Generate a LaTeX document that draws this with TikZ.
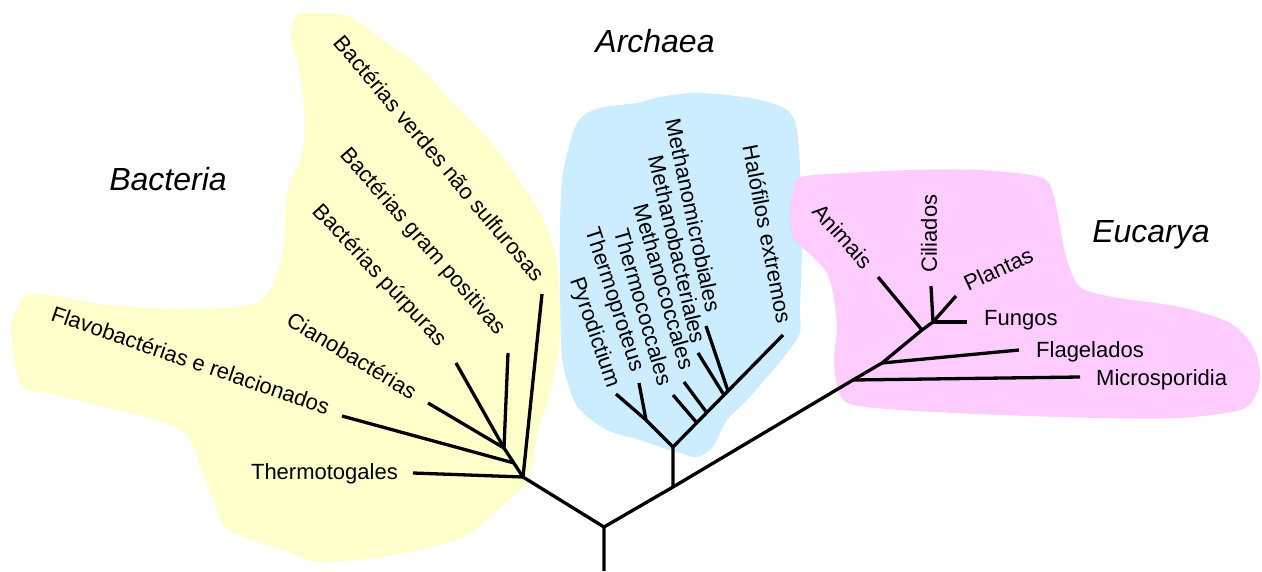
\documentclass[tikz,border=0pt]{standalone}
\usepackage{fontspec}
\setmainfont{Liberation Sans}

\begin{document}
\begin{tikzpicture}[x=1pt,y=-1pt]
    % pale colours of the three domains
    \definecolor{bactYellow}{RGB}{255,255,204}
    \definecolor{archBlue}{RGB}{204,236,255}
    \definecolor{eucPink}{RGB}{255,204,255}
    \tikzstyle{every node}=[font=\fontsize{22}{25}\selectfont, inner sep=1pt]
    \tikzstyle{domainname}=[font=\fontsize{32}{38}\selectfont\itshape, anchor=base]
    \tikzstyle{branch}=[line width=3.3pt, line join=round]

    \useasboundingbox (0,0) rectangle (1262,571);

    % background blobs
    \fill[bactYellow] plot[smooth cycle] coordinates {(300,14) (347,16) (380,38) (420,67) (447,97)
        (480,130) (507,163) (530,197) (547,227) (557,263) (560,310) (559,350) (548,400) (538,430)
        (533,463) (523,487) (500,507) (464,537) (393,555) (321,562) (286,551) (229,530) (214,501)
        (200,466) (186,434) (143,416) (50,394) (21,384) (11,334) (14,316) (32,294) (107,305)
        (179,309) (250,305) (271,287) (283,250) (287,193) (300,160) (305,120) (299,70) (291,35)};
    \fill[archBlue] plot[smooth cycle] coordinates {(637,103) (660,97) (693,93) (727,95) (760,100)
        (787,110) (797,130) (801,190) (802,250) (800,310) (800,333) (787,353) (767,377) (747,400)
        (727,420) (713,447) (697,457) (680,453) (660,447) (640,440) (607,430) (580,410) (570,390)
        (562,357) (560,290) (560,223) (563,173) (577,123) (600,108)};
    \fill[eucPink] plot[smooth cycle] coordinates {(800,177) (847,173) (913,170) (980,170) (1040,177)
        (1053,193) (1060,227) (1067,260) (1080,287) (1113,297) (1180,307) (1230,323) (1253,347)
        (1260,373) (1256,395) (1240,410) (1180,418) (1100,418) (1000,415) (900,410) (850,404)
        (838,390) (834,360) (837,327) (833,293) (827,273) (813,257) (793,237) (790,210) (793,190)};

    % joints of the tree
    \coordinate (root) at (604,571);
    \coordinate (fork) at (604,527);
    \coordinate (bNode) at (523,477);
    \coordinate (bSub) at (504,448);
    \coordinate (bFlavo) at (514,463);
    \coordinate (aStem) at (673,487);
    \coordinate (aNode) at (673,447);
    \coordinate (aSub) at (646,420);
    \coordinate (aThc) at (697,423);
    \coordinate (aMcc) at (707,413);
    \coordinate (aMbt) at (724,395);
    \coordinate (aMmc) at (728,391);
    \coordinate (eMic) at (853,380);
    \coordinate (eFla) at (882,363);
    \coordinate (eAni) at (922,330);
    \coordinate (eNode) at (933,322);

    % free ends of the leaves
    \coordinate (bThermo) at (413,473);
    \coordinate (bFlavoEnd) at (342,416);
    \coordinate (bCiano) at (428,403);
    \coordinate (bPurp) at (456,363);
    \coordinate (bGram) at (508,353);
    \coordinate (bVerde) at (542,294);
    \coordinate (aPyro) at (616,394);
    \coordinate (aTprot) at (639,383);
    \coordinate (aTcoc) at (673,395);
    \coordinate (aMcoc) at (684,382);
    \coordinate (aMbac) at (698,353);
    \coordinate (aMmic) at (706,326);
    \coordinate (aHalo) at (783,335);
    \coordinate (eMicro) at (1080,377);
    \coordinate (eFlag) at (1019,350);
    \coordinate (eAnim) at (878,277);
    \coordinate (eCili) at (931,286);
    \coordinate (ePlan) at (956,296);
    \coordinate (eFung) at (967,322);

    % trunk and main branches
    \draw[branch] (root) -- (fork) -- (bNode);
    \draw[branch] (fork) -- (aStem) -- (eMic) -- (eFla) -- (eAni) -- (eNode);
    \draw[branch] (aStem) -- (aNode) -- (aHalo);
    \draw[branch] (aNode) -- (aSub);
    \draw[branch] (bSub) -- (bNode);

    % leaves
    \foreach \leaf/\joint in {bThermo/bNode, bFlavoEnd/bFlavo, bCiano/bSub, bPurp/bSub,
        bGram/bSub, bVerde/bNode, aPyro/aSub, aTprot/aSub, aTcoc/aThc, aMcoc/aMcc,
        aMbac/aMbt, aMmic/aMmc, eMicro/eMic, eFlag/eFla, eAnim/eAni, eCili/eNode,
        ePlan/eNode, eFung/eNode}{
      \draw[branch] (\leaf) -- (\joint);
    }

    % domain names
    \node[domainname] (bacteria) at (168,190) {Bacteria};
    \node[domainname] (archaea) at (655,52) {Archaea};
    \node[domainname] (eucarya) at (1151,242) {Eucarya};

    % bacteria labels
    \node[anchor=east] (thermotogales) at (399,474) {Thermotogales};
    \node[anchor=east, rotate=-19] (flavo) at (330,408) {Flavobactérias e relacionados};
    \node[anchor=east, rotate=-31] (ciano) at (416,394) {Cianobactérias};
    \node[anchor=east, rotate=-47] (purpuras) at (443,344) {Bactérias púrpuras};
    \node[anchor=east, rotate=-49] (gram) at (502,333) {Bactérias gram positivas};
    \node[anchor=east, rotate=-50] (verdes) at (541,279) {Bactérias verdes não sulfurosas};

    % archaea labels
    \node[anchor=east, rotate=-71] (pyro) at (613,388) {Pyrodictium};
    \node[anchor=east, rotate=-72] (tprot) at (637,372) {Thermoproteus};
    \node[anchor=east, rotate=-74] (tcoc) at (666,386) {Thermococcales};
    \node[anchor=east, rotate=-74] (mcoc) at (688,370) {Methanococcales};
    \node[anchor=east, rotate=-77] (mbac) at (699,344) {Methanobacteriales};
    \node[anchor=east, rotate=-78] (mmic) at (714,313) {Methanomicrobiales};
    \node[anchor=east, rotate=-79] (halo) at (785,324) {Halófilos extremos};

    % eucarya labels
    \node[anchor=east, rotate=-48] (animais) at (870,266) {Animais};
    \node[anchor=west, rotate=90] (ciliados) at (929,274) {Ciliados};
    \node[anchor=west, rotate=25] (plantas) at (964,285) {Plantas};
    \node[anchor=base west] (fungos) at (983,325) {Fungos};
    \node[anchor=base west] (flagelados) at (1035,357) {Flagelados};
    \node[anchor=base west] (microsporidia) at (1095,385) {Microsporidia};

\end{tikzpicture}
\end{document}
